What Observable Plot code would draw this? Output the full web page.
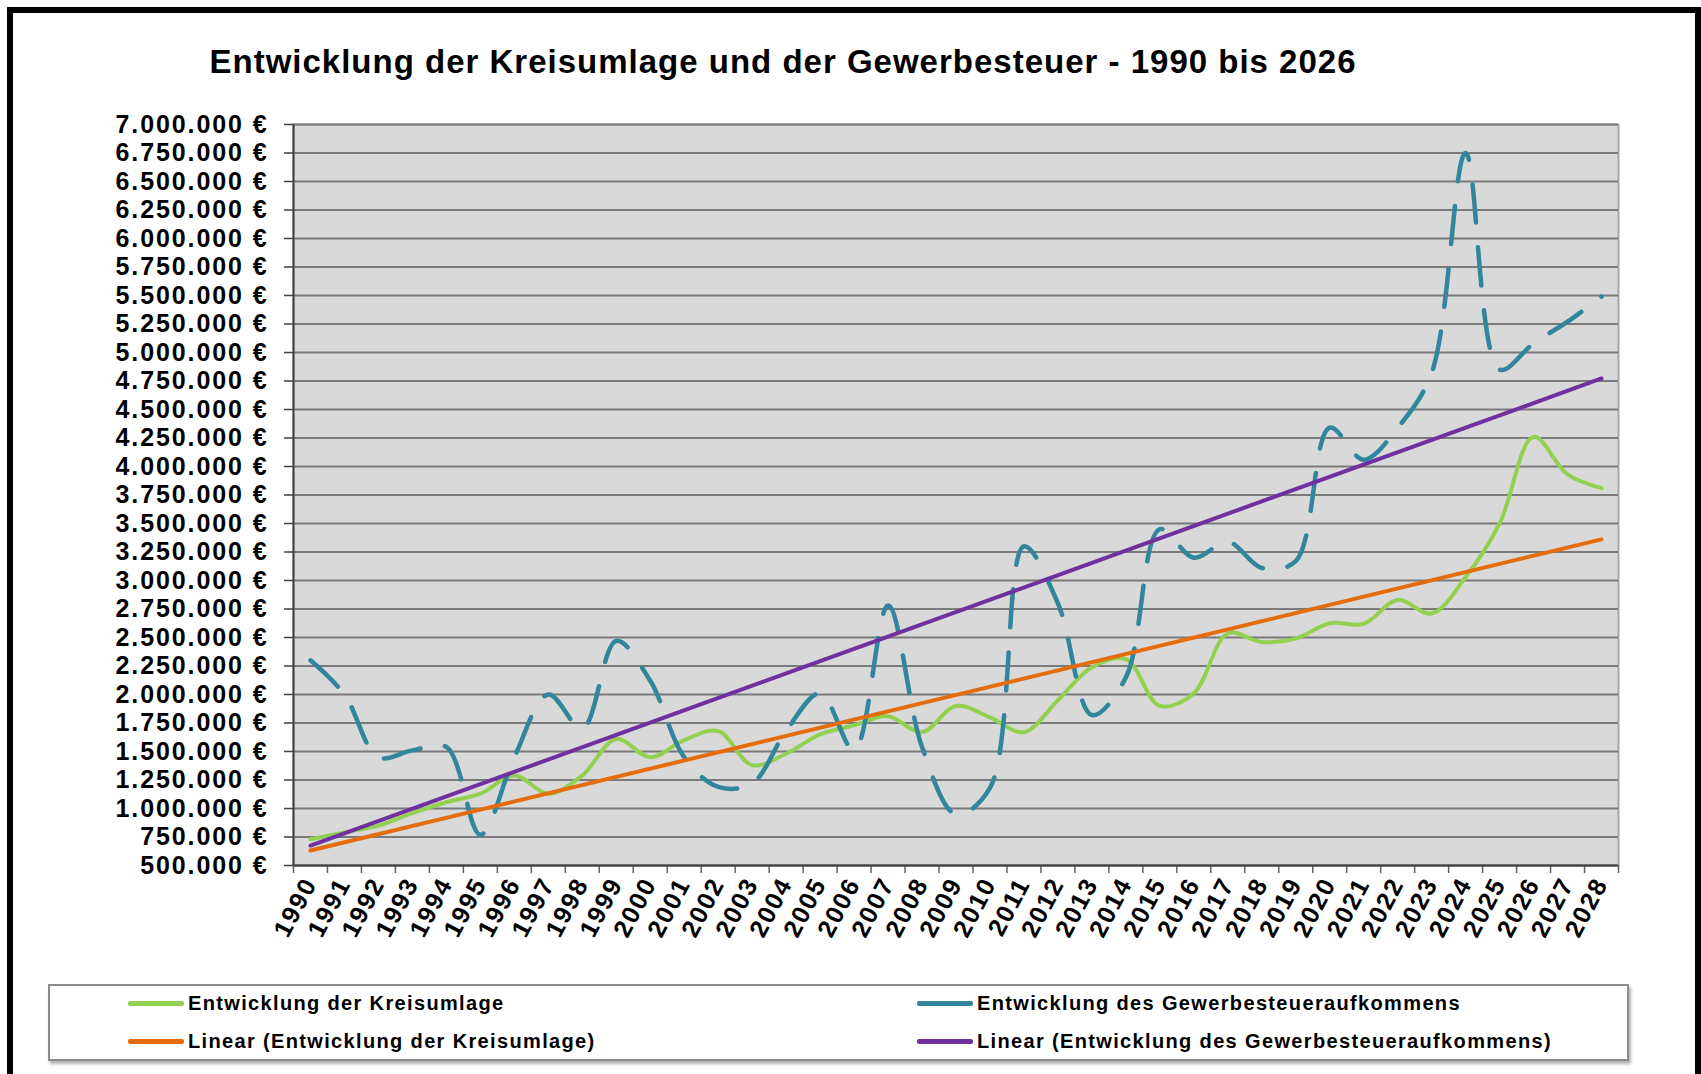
<!DOCTYPE html>
<html>
<head>
<meta charset="utf-8">
<script src="https://cdn.jsdelivr.net/npm/d3@7"></script>
<script src="https://cdn.jsdelivr.net/npm/@observablehq/plot@0.6"></script>
<style>
  html, body { margin: 0; padding: 0; background: #fff; }
  #page { position: relative; width: 1701px; height: 1074px; overflow: hidden; font-family: "Liberation Sans", Arial, sans-serif; }
  #frame { position: absolute; left: 7px; top: 7px; width: 1682px; height: 1100px; border: 6px solid #000; }
  #chart { position: absolute; left: 0; top: 0; }
  #chart svg text { font-family: "Liberation Sans", Arial, sans-serif; font-weight: bold; font-size: 25px; letter-spacing: 1.9px; fill: #000; }
  #title { position: absolute; left: 0; width: 1566px; top: 43px; text-align: center; font-weight: bold; font-size: 33px; letter-spacing: 1px; color: #000; white-space: nowrap; }
  #legend { position: absolute; left: 48px; top: 984px; width: 1577px; height: 73px; border: 2px solid #8c8c8c; box-shadow: 2px 3px 3px #b0b0b0; background: #fff; }
  .item { position: absolute; height: 28px; display: flex; align-items: center; font-weight: bold; font-size: 20px; letter-spacing: 1.35px; white-space: nowrap; color: #000; }
  .sw { width: 56px; height: 5px; border-radius: 2px; margin-right: 4px; }
</style>
</head>
<body>
<div id="page">
  <div id="frame"></div>
  <div id="chart"></div>
  <div id="title">Entwicklung der Kreisumlage und der Gewerbesteuer - 1990 bis 2026</div>
  <div id="legend"></div>
</div>
<script>
// ---- data ----
const years = [1990,1991,1992,1993,1994,1995,1996,1997,1998,1999,2000,2001,2002,2003,2004,2005,2006,2007,2008,2009,2010,2011,2012,2013,2014,2015,2016,2017,2018,2019,2020,2021,2022,2023,2024,2025,2026,2027,2028];

const kreisumlage = [730000,790000,850000,960000,1055000,1130000,1290000,1130000,1290000,1610000,1450000,1600000,1680000,1380000,1480000,1650000,1730000,1810000,1670000,1900000,1800000,1670000,1950000,2240000,2310000,1900000,2010000,2535000,2460000,2490000,2625000,2620000,2830000,2710000,3030000,3500000,4260000,3930000,3810000];

const gewerbesteuer = [2300000,2000000,1450000,1510000,1540000,770000,1450000,2000000,1700000,2470000,2120000,1450000,1190000,1220000,1680000,2010000,1510000,2780000,1540000,950000,1180000,3300000,2800000,1820000,2150000,3450000,3200000,3340000,3110000,3170000,4340000,4060000,4340000,4820000,6750000,4850000,5080000,5270000,5490000];

// trend lines: start (1990) and end (2028) values
const trendYears = [1990, 2028];
const trendKreisumlage = [631000, 3361000];
const trendGewerbesteuer = [675000, 4772000];

const yTicks = [500000,750000,1000000,1250000,1500000,1750000,2000000,2250000,2500000,2750000,3000000,3250000,3500000,3750000,4000000,4250000,4500000,4750000,5000000,5250000,5500000,5750000,6000000,6250000,6500000,6750000,7000000];

const seriesNames = ["Entwicklung der Kreisumlage", "Entwicklung des Gewerbesteueraufkommens", "Linear (Entwicklung der Kreisumlage)", "Linear (Entwicklung des Gewerbesteueraufkommens)"];
const seriesColors = ["#92D050", "#31859C", "#E46C0A", "#7030A0"];

// ---- build tables ----
const kreisData = years.map((y, i) => ({year: y, value: kreisumlage[i]}));
const gewData = years.map((y, i) => ({year: y, value: gewerbesteuer[i]}));
const trendK = trendYears.map((y, i) => ({year: y, value: trendKreisumlage[i]}));
const trendG = trendYears.map((y, i) => ({year: y, value: trendGewerbesteuer[i]}));
const boundaries = years.map(y => y - 0.5).concat([years[years.length - 1] + 0.5]);

const fmt = d => d3.format(",")(d).replace(/,/g, ".") + " €";

const chart = Plot.plot({
  width: 1701,
  height: 1074,
  marginLeft: 293,
  marginRight: 83,
  marginTop: 124,
  marginBottom: 209,
  x: {type: "linear", domain: [boundaries[0], boundaries[boundaries.length - 1]], axis: null},
  y: {domain: [500000, 7000000], axis: null},
  marks: [
    Plot.frame({fill: "#d9d9d9", stroke: "#a6a6a6", strokeWidth: 2}),
    Plot.gridY(yTicks, {stroke: "#7a7a7a", strokeOpacity: 1, strokeWidth: 2}),
    Plot.axisY(yTicks, {tickFormat: fmt, tickSize: 9, tickPadding: 16, stroke: "#404040", strokeWidth: 1.5, label: null}),
    Plot.axisX(boundaries, {tickFormat: () => "", tickSize: 8, stroke: "#606060", strokeWidth: 1.5, label: null}),
    Plot.axisX(years, {tickFormat: d => String(d), tickSize: 0, tickPadding: 14, tickRotate: -62, label: null}),
    Plot.ruleX([boundaries[0]], {stroke: "#404040", strokeWidth: 2}),
    Plot.ruleY([500000], {stroke: "#404040", strokeWidth: 2}),
    Plot.line(kreisData, {x: "year", y: "value", stroke: seriesColors[0], strokeWidth: 4, curve: "catmull-rom"}),
    Plot.line(gewData, {x: "year", y: "value", stroke: seriesColors[1], strokeWidth: 4.5, curve: "catmull-rom", strokeDasharray: "38,25", strokeLinecap: "round"}),
    Plot.line(trendK, {x: "year", y: "value", stroke: seriesColors[2], strokeWidth: 4}),
    Plot.line(trendG, {x: "year", y: "value", stroke: seriesColors[3], strokeWidth: 4})
  ]
});
document.getElementById("chart").appendChild(chart);

// ---- legend ----
const legend = document.getElementById("legend");
const pos = [
  {left: 78, top: 3},
  {left: 867, top: 3},
  {left: 78, top: 41},
  {left: 867, top: 41}
];
seriesNames.forEach((name, i) => {
  const it = document.createElement("div");
  it.className = "item";
  it.style.left = pos[i].left + "px";
  it.style.top = pos[i].top + "px";
  const sw = document.createElement("div");
  sw.className = "sw";
  sw.style.background = seriesColors[i];
  const tx = document.createElement("span");
  tx.textContent = name;
  it.appendChild(sw);
  it.appendChild(tx);
  legend.appendChild(it);
});
</script>
</body>
</html>
